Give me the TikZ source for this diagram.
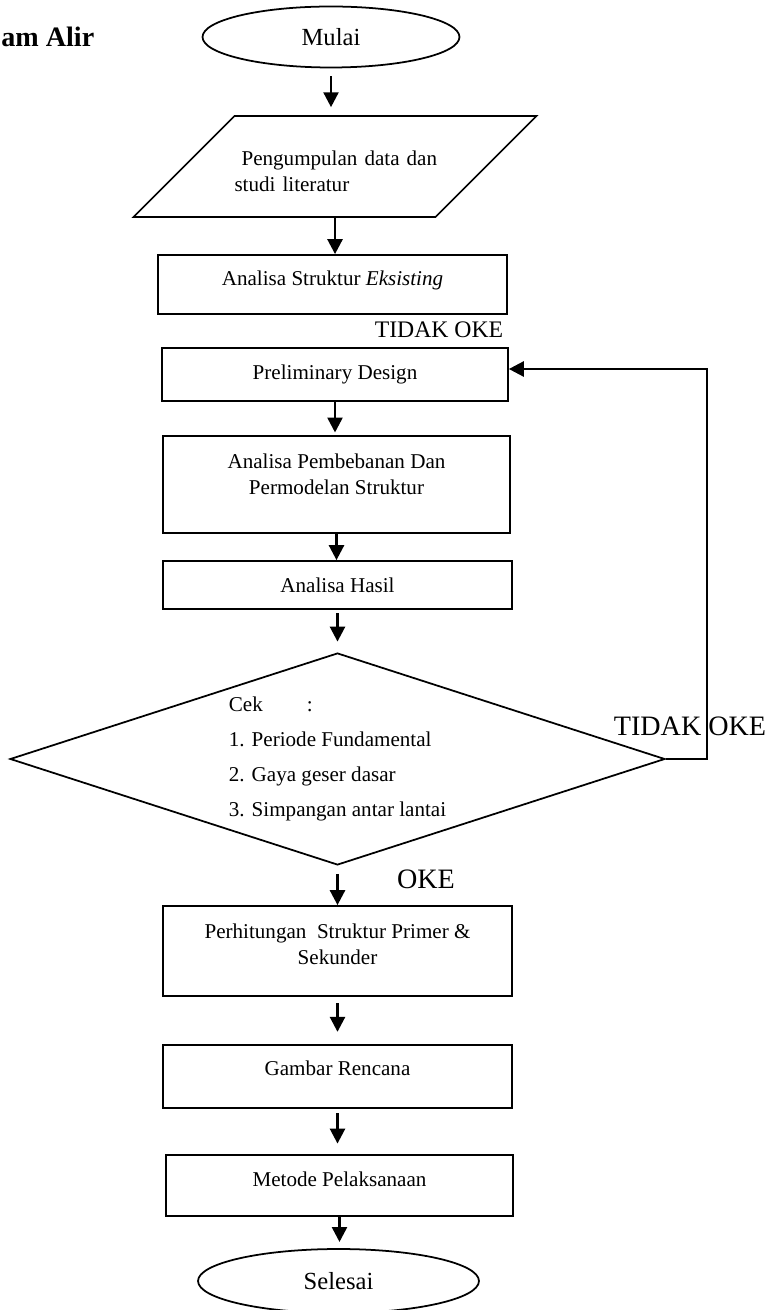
\documentclass[tikz,border=0pt]{standalone}
\usepackage{fontspec}
\setmainfont{Liberation Serif}
\usetikzlibrary{positioning,shapes,arrows.meta}

\begin{document}
\begin{tikzpicture}[x=0.02cm,y=-0.02cm,
  txt/.style={font=\fontsize{12pt}{14.5pt}\selectfont},
  box/.style={draw,line width=1pt,rectangle,inner sep=0pt,align=center,txt},
  ujung/.style={draw,line width=1pt,ellipse,inner sep=0pt,font=\fontsize{14pt}{17pt}\selectfont},
  flow/.style={line width=1.5pt,-{Triangle[length=8.5pt,width=8.5pt]}}]
  \useasboundingbox (0,0) rectangle (782,1310);
  \node[anchor=west,inner sep=0pt,font=\fontsize{16pt}{19pt}\selectfont\bfseries] (judul) at (1,37) {am Alir};
  \node[ujung,minimum width=5.14cm,minimum height=1.22cm] (mulai) at (331,37) {Mulai};
  \node[draw,line width=1pt,trapezium,trapezium left angle=45,trapezium right angle=135,inner sep=0pt,
        text width=4.02cm,text height=28.4pt,text depth=29.1pt,align=left,txt] (data) at (335,166.5)
        {\mbox{\hspace{4pt}Pengumpulan data dan}\\studi literatur};
  \node[box,minimum width=6.98cm,minimum height=1.18cm,text depth=7pt] (eksis) at (332.5,284.5) {Analisa Struktur \textit{Eksisting}};
  \node[inner sep=0pt,font=\fontsize{13.5pt}{16pt}\selectfont] (tidakatas) at (439,330) {TIDAK OKE};
  \node[box,minimum width=6.92cm,minimum height=1.06cm] (prelim) at (335,374.5) {Preliminary Design};
  \node[box,minimum width=6.94cm,minimum height=1.94cm,text depth=12pt] (beban) at (336.5,484.5) {Analisa Pembebanan Dan\\Permodelan Struktur};
  \node[box,minimum width=6.98cm,minimum height=0.96cm] (hasil) at (337.5,585) {Analisa Hasil};
  \node[draw,line width=1pt,diamond,aspect=3.09,minimum width=13.1cm,minimum height=4.24cm,inner sep=0pt,align=left,
        font=\fontsize{12pt}{20pt}\selectfont] (cek) at (337.5,759)
        {Cek\hspace{25pt}:\\1. Periode Fundamental\\2. Gaya geser dasar\\3. Simpangan antar lantai};
  \node[inner sep=0pt,font=\fontsize{16pt}{19pt}\selectfont] (tidakkanan) at (690,726) {TIDAK OKE};
  \node[inner sep=0pt,font=\fontsize{16pt}{19pt}\selectfont] (oke) at (426,879) {OKE};
  \node[box,minimum width=6.98cm,minimum height=1.8cm,text depth=8pt] (perhit) at (337.5,951) {Perhitungan\ \ Struktur Primer \&\\Sekunder};
  \node[box,minimum width=6.98cm,minimum height=1.26cm,text depth=9.5pt] (gambar) at (337.5,1076.5) {Gambar Rencana};
  \node[box,minimum width=6.94cm,minimum height=1.22cm,text depth=7.5pt] (metode) at (339.5,1185.5) {Metode Pelaksanaan};
  \node[ujung,minimum width=5.62cm,minimum height=1.28cm] (selesai) at (338.5,1281) {Selesai};
  \coordinate (balik) at (707,369);
  \draw[flow,shorten <=4.5pt,shorten >=4.5pt] (mulai.south) -- (mulai.south |- data.north);
  \draw[flow] (data.south) -- (data.south |- eksis.north);
  \draw[flow,shorten >=1.5pt] (prelim.south) -- (prelim.south |- beban.north);
  \draw[flow] (beban.south) -- (beban.south |- hasil.north);
  \draw[flow,shorten <=2pt,shorten >=6pt] (hasil.south) -- (cek.north);
  \draw[flow,shorten <=4.5pt] (cek.south) -- (perhit.north);
  \draw[flow,shorten <=3.5pt,shorten >=7pt] (perhit.south) -- (gambar.north);
  \draw[flow,shorten <=2.5pt,shorten >=6pt] (gambar.south) -- (gambar.south |- metode.north);
  \draw[flow,shorten >=3.5pt] (metode.south) -- (metode.south |- selesai.north);
  \draw[flow] (cek.east) -| (balik) -- (balik -| prelim.east);
\end{tikzpicture}
\end{document}
